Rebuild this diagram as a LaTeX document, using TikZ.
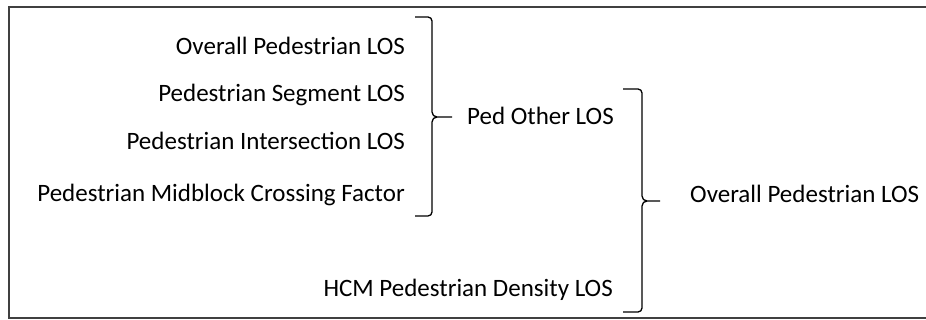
\documentclass[tikz,border=0pt]{standalone}
\usepackage{fontspec}
\setmainfont{Carlito}
\usepackage{tikz}
\usetikzlibrary{positioning,calc}

\begin{document}
\begin{tikzpicture}[x=1pt, y=1pt,
  every node/.style={font=\fontsize{25}{30}\selectfont, inner sep=0pt},
  item/.style={anchor=base east},
  result/.style={anchor=base west},
  bracket/.style={draw=black, line width=1.3pt},
  frame/.style={draw=black!75, line width=1.6pt}]

  \useasboundingbox (0,0) rectangle (926,-320);
  \draw[frame] (926,-7) -- (9,-7) -- (9,-318) -- (926,-318);

  %% ─── Inputs ────────────────────────────────────────────────────────────
  \node[item] (ov_los)  at (405,-55)  {Overall Pedestrian LOS};
  \node[item] (seg_los) at (405,-102) {Pedestrian Segment LOS};
  \node[item] (int_los) at (405,-150) {Pedestrian Intersection LOS};
  \node[item] (mid_fac) at (405,-202) {Pedestrian Midblock Crossing Factor};
  \node[item] (hcm_los) at (613,-297) {HCM Pedestrian Density LOS};

  %% ─── First bracket: Ped Other LOS ──────────────────────────────────────
  \coordinate (br1_top) at (415,-17);
  \coordinate (br1_bot) at (415,-216);
  \coordinate (br1_tip) at (452,-117);
  \node[result] (ped_other) at (467,-125) {Ped Other LOS};
  \draw[bracket] (br1_top) -- ++(13,0) arc[start angle=90, end angle=0, radius=4pt]
      |- ($(br1_tip)+(-20,5)$) arc[start angle=180, end angle=270, radius=5pt] -- (br1_tip);
  \draw[bracket] ($(br1_tip)+(-15,0)$) arc[start angle=90, end angle=180, radius=5pt]
      |- ($(br1_bot)+(17,4)$) arc[start angle=0, end angle=-90, radius=4pt] -- (br1_bot);

  %% ─── Second bracket: Overall Pedestrian LOS ────────────────────────────
  \coordinate (br2_top) at (623,-89);
  \coordinate (br2_bot) at (623,-312);
  \coordinate (br2_tip) at (660,-201);
  \node[result] (ov_total) at (690,-203) {Overall Pedestrian LOS};
  \draw[bracket] (br2_top) -- ++(15,0) arc[start angle=90, end angle=0, radius=4pt]
      |- ($(br2_tip)+(-18,5)$) arc[start angle=180, end angle=270, radius=5pt] -- (br2_tip);
  \draw[bracket] ($(br2_tip)+(-13,0)$) arc[start angle=90, end angle=180, radius=5pt]
      |- ($(br2_bot)+(19,4)$) arc[start angle=0, end angle=-90, radius=4pt] -- (br2_bot);
\end{tikzpicture}
\end{document}
